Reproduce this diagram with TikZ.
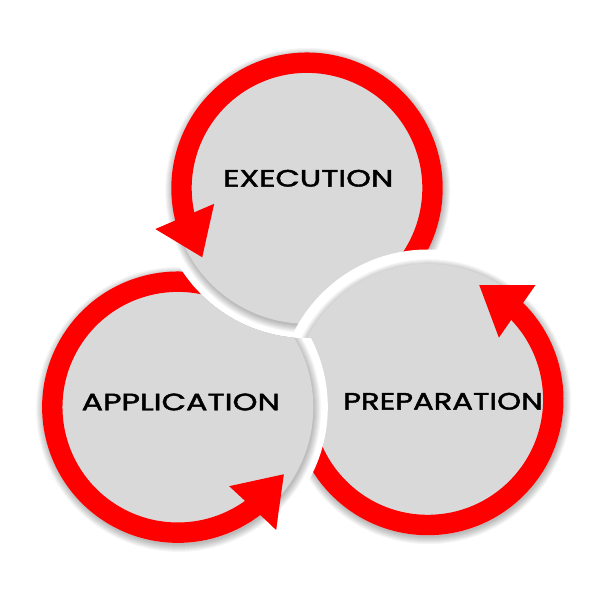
\documentclass[tikz,border=0pt]{standalone}
\usepackage{fontspec}
\setmainfont{Poppins}
\newfontfamily\labfont{Poppins}[FakeBold=1.6]
\usepackage{graphicx}
\usetikzlibrary{calc}
\definecolor{ringred}{RGB}{255,0,0}
\definecolor{discgrey}{RGB}{217,217,217}
\tikzset{
  ring/.style={draw=ringred, line width=20.4pt},
  arrowhead/.style={fill=ringred},
  disc/.style={fill=discgrey},
  gap/.style={fill=white},
  label/.style={inner sep=0pt, text=black},
}
\newcommand\lab[2]{\resizebox{#1pt}{16.7pt}{\labfont #2}}
\newcommand\softshadow[1]{%
  \foreach \k in {0,...,7}{\fill[black, fill opacity=0.035] ($(#1)+(0.8,-2.2)$) circle[radius=135.5+\k];}}
% center, start angle, base angle, tip angle, name
\newcommand\ringunit[5]{%
  \fill[gap] (#1) circle[radius=150];
  \softshadow{#1}
  \fill[disc] (#1) circle[radius=135.5];
  \draw[ring] ($(#1)+(#2:125.5)$) arc[start angle=#2, end angle=#3+2, radius=125.5];
  \coordinate (#5b) at ($(#1)+(#3:125.5)$);
  \coordinate (#5t) at ($(#1)+(#4:125.5)$);
  \fill[arrowhead] ($(#5b)!32pt!90:(#5t)$) -- (#5t) -- ($(#5b)!32pt!-90:(#5t)$) -- cycle;
}
\begin{document}
\begin{tikzpicture}[x=1pt,y=1pt]
  \fill[white] (0,0) rectangle (600,600);
  \useasboundingbox (0,0) rectangle (600,600);
  \coordinate (E) at (307,411.8);
  \coordinate (A) at (177.8,192.8);
  \coordinate (P) at (427.8,200.5);
  \ringunit{A}{59.5}{306.6}{327.7}{app}
  \ringunit{E}{-60}{193}{213.4}{exec}
  \ringunit{P}{182}{404.6}{425.8}{prep}
  \begin{scope}
    \clip (0,0) -- (600,0) -- (600,385.75) -- ($(E)+(-10:150)$)
      arc[start angle=-10, end angle=-170, radius=150] -- (0,385.75) -- cycle;
    \ringunit{A}{59.5}{306.6}{327.7}{apptop}
  \end{scope}
  \node[label] (exectext) at (308.3,421.7) {\lab{170}{EXECUTION}};
  \node[label] (apptext) at (180.8,198) {\lab{198.3}{APPLICATION}};
  \node[label] (preptext) at (443,198.7) {\lab{199.4}{PREPARATION}};
\end{tikzpicture}
\end{document}
